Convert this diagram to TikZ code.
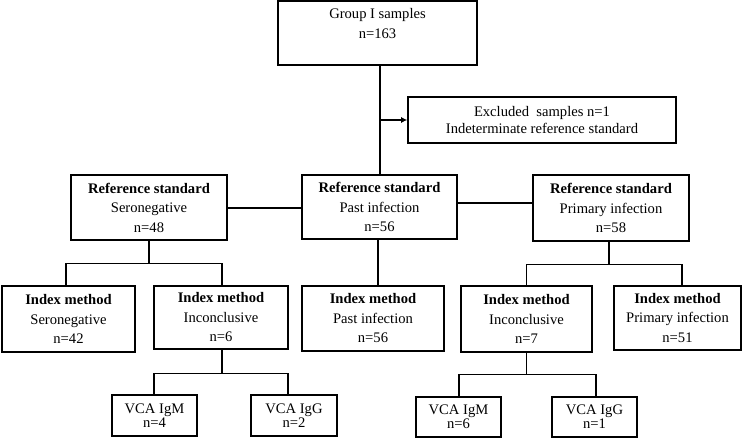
\documentclass[tikz,border=0pt]{standalone}
\usepackage{fontspec}
\setmainfont{Liberation Serif}
\usetikzlibrary{arrows.meta}
\begin{document}
\begin{tikzpicture}[x=1pt,y=-1pt,
  box/.style={draw=black,line width=1.6pt,inner sep=0pt,align=center,
    font=\fontsize{14.6}{19.5}\selectfont},
  smallbox/.style={box,font=\fontsize{14.6}{14}\selectfont},
  conn/.style={draw=black,line width=1.1pt},
  arr/.style={conn,-{Latex[length=6pt,width=6pt]}}]
\useasboundingbox[fill=white] (0,0) rectangle (750,438);
% top
\node[box,minimum width=199pt,minimum height=64pt] (top) at (377.5,33) {Group I samples\\ n=163\\ \mbox{}};
\node[box,minimum width=268pt,minimum height=46pt,font=\fontsize{14.6}{17}\selectfont] (excl) at (542,120) {Excluded\ \ samples n=1\\ Indeterminate reference standard};
% reference standard
\node[box,minimum width=156pt,minimum height=65pt] (rs) at (149,207.5) {\textbf{Reference standard}\\ Seronegative\\ n=48};
\node[box,minimum width=155pt,minimum height=64pt] (rp) at (379.5,207) {\textbf{Reference standard}\\ Past infection\\ n=56};
\node[box,minimum width=156pt,minimum height=66pt] (rq) at (611,208) {\textbf{Reference standard}\\ Primary infection\\ n=58};
% index method
\node[box,minimum width=133pt,minimum height=66pt] (is) at (68.5,319) {\textbf{Index method}\\ Seronegative\\ n=42};
\node[box,minimum width=134pt,minimum height=63pt] (ia) at (221,317.5) {\textbf{Index method}\\ Inconclusive\\ n=6};
\node[box,minimum width=142pt,minimum height=65pt] (ip) at (373,318.5) {\textbf{Index method}\\ Past infection\\ n=56};
\node[box,minimum width=131pt,minimum height=66pt] (ib) at (526.5,319) {\textbf{Index method}\\ Inconclusive\\ n=7};
\node[box,minimum width=127pt,minimum height=64pt] (iq) at (677.5,318) {\textbf{Index method}\\ Primary infection\\ n=51};
% VCA
\node[smallbox,minimum width=85pt,minimum height=41pt] (m4) at (154.5,415.5) {VCA IgM\\ n=4};
\node[smallbox,minimum width=86pt,minimum height=41pt] (g2) at (294,415.5) {VCA IgG\\ n=2};
\node[smallbox,minimum width=85pt,minimum height=40pt] (m6) at (458.5,417) {VCA IgM\\ n=6};
\node[smallbox,minimum width=85pt,minimum height=40pt] (g1) at (594.5,417) {VCA IgG\\ n=1};
% connectors
\draw[conn] ([xshift=2.5pt]top.south) -- ([xshift=0.5pt]rp.north);
\draw[arr] ([xshift=1.5pt]excl.west -| top.south) -- (excl.west);
\draw[conn] ([yshift=-0.5pt]rs.east) -- ([yshift=-0.5pt]rs.east -| rp.west);
\draw[conn] ([yshift=4pt]rp.east) -- ([yshift=4pt]rp.east -| rq.west);
\draw[conn] (rs.south) -- ++(0,23) coordinate (s1);
\draw[conn] ([xshift=-2.5pt]is.north) |- (s1) -| ([xshift=1pt]ia.north);
\draw[conn] ([xshift=-1.5pt]rp.south) -- ([xshift=-1.5pt]rp.south |- ip.north);
\draw[conn] ([xshift=-2pt]rq.south) -- ++(0,23) coordinate (s2);
\draw[conn] (ib.north) |- (s2) -| ([xshift=4.5pt]iq.north);
\draw[conn] ([xshift=1pt]ia.south) -- ++(0,24) coordinate (s3);
\draw[conn] ([xshift=-0.5pt]m4.north) |- (s3) -| ([xshift=-6pt]g2.north);
\draw[conn] (ib.south) -- ++(0,22) coordinate (s4);
\draw[conn] ([xshift=0.5pt]m6.north) |- (s4) -| ([xshift=1.5pt]g1.north);
\end{tikzpicture}
\end{document}
